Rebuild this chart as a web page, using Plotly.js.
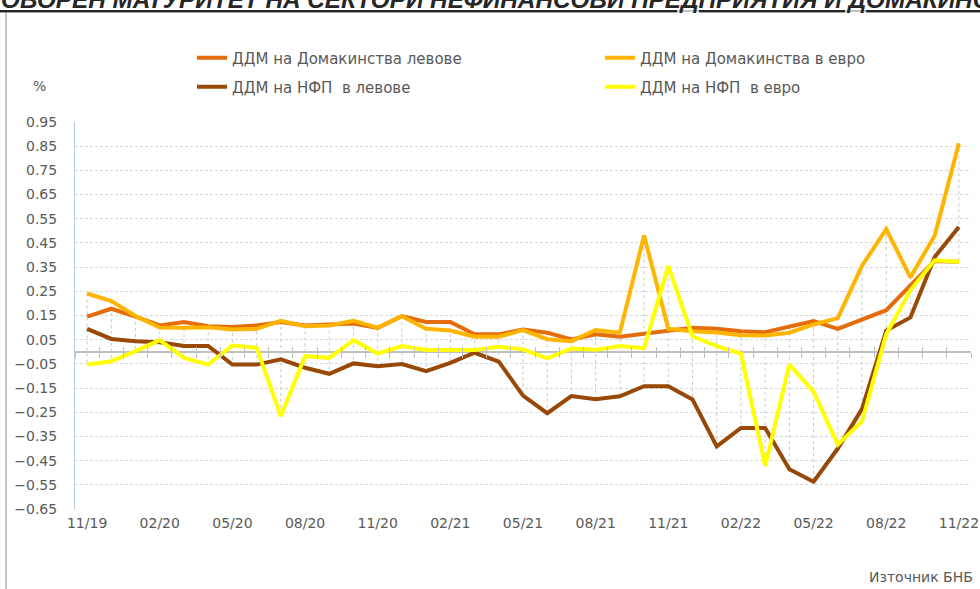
<!DOCTYPE html>
<html>
<head>
<meta charset="utf-8">
<script src="https://cdn.plot.ly/plotly-3.0.1.min.js"></script>
<style>html,body{margin:0;padding:0;background:#fff;}#chart{width:980px;height:589px;}</style>
</head>
<body>
<div id="chart"></div>
<script>
// ---- data ----
const months = ["11/19","12/19","01/20","02/20","03/20","04/20","05/20","06/20","07/20","08/20","09/20","10/20",
  "11/20","12/20","01/21","02/21","03/21","04/21","05/21","06/21","07/21","08/21","09/21","10/21",
  "11/21","12/21","01/22","02/22","03/22","04/22","05/22","06/22","07/22","08/22","09/22","10/22","11/22"];
const tickLabels = ["11/19","02/20","05/20","08/20","11/20","02/21","05/21","08/21","11/21","02/22","05/22","08/22","11/22"];
const seriesNames = ["ДДМ на Домакинства левове","ДДМ на Домакинства в евро","ДДМ на НФП  в левове","ДДМ на НФП  в евро"];
const hhLev = [0.145,0.178,0.145,0.109,0.123,0.106,0.102,0.109,0.123,0.109,0.113,0.117,0.099,0.147,0.123,0.123,0.072,0.072,0.092,0.079,0.051,0.072,0.062,0.075,0.085,0.099,0.095,0.085,0.081,0.103,0.127,0.095,0.134,0.172,0.275,0.375,0.372];
const hhEur = [0.241,0.21,0.148,0.10,0.099,0.101,0.092,0.095,0.128,0.106,0.109,0.128,0.10,0.147,0.095,0.088,0.062,0.062,0.09,0.052,0.044,0.09,0.079,0.481,0.095,0.085,0.08,0.068,0.067,0.079,0.113,0.139,0.356,0.507,0.308,0.48,0.862];
const nfpLev = [0.095,0.053,0.044,0.039,0.024,0.024,-0.053,-0.053,-0.031,-0.066,-0.091,-0.048,-0.06,-0.051,-0.08,-0.046,-0.004,-0.041,-0.181,-0.254,-0.183,-0.196,-0.184,-0.142,-0.142,-0.197,-0.391,-0.315,-0.315,-0.486,-0.537,-0.4,-0.236,0.088,0.142,0.392,0.516];
const nfpEur = [-0.053,-0.039,0.003,0.048,-0.025,-0.053,0.026,0.016,-0.266,-0.018,-0.025,0.048,-0.007,0.024,0.007,0.007,0.007,0.021,0.01,-0.027,0.014,0.008,0.024,0.015,0.354,0.064,0.023,-0.007,-0.472,-0.053,-0.165,-0.384,-0.287,0.072,0.255,0.378,0.372];

const FONT = "DejaVu Sans";
const GREY = "#595959";
const colors = ["#E46C0A","#FFB400","#984807","#FFFF00"];
const allSeries = [hhLev, hhEur, nfpLev, nfpEur];
const legendIds = ["legend","legend2","legend3","legend4"];

// high-low lines derived from the series
const hlX = [], hlY = [];
months.forEach((m, i) => {
  const vals = allSeries.map(s => s[i]);
  hlX.push(m, m, null);
  hlY.push(Math.max(...vals), Math.min(...vals), null);
});

const traces = [
  {x: hlX, y: hlY, mode: "lines", line: {color: "#C8C8C8", width: 1, dash: "dot"}, showlegend: false, hoverinfo: "skip"},
  // dummy traces carrying the categories for the zero-line tick axes
  {x: months, y: months.map(() => null), xaxis: "x2", mode: "lines", showlegend: false, hoverinfo: "skip"},
  {x: months, y: months.map(() => null), xaxis: "x3", mode: "lines", showlegend: false, hoverinfo: "skip"}
];
allSeries.forEach((s, k) => {
  traces.push({
    x: months, y: s, name: seriesNames[k], mode: "lines",
    line: {color: colors[k], width: 4},
    legend: legendIds[k]
  });
});

// pixel helpers for the plot frame
const L = 75, R = 9, T = 122, B = 80, W = 980 - L - R, H = 589 - T - B;
const px = v => (v - L) / W;
const py = v => (589 - B - v) / H;

const tickAxisBase = {
  type: "category", overlaying: "x", anchor: "free", position: 0.65 / 1.6,
  range: [-0.5, months.length - 0.5], tickson: "boundaries", tickmode: "linear", dtick: 1,
  ticklen: 5, tickcolor: "#BFBFBF", tickwidth: 1, showticklabels: false,
  showgrid: false, showline: false, zeroline: false
};

const legendBase = {
  orientation: "h",
  xref: "container", yref: "container", xanchor: "left", yanchor: "middle",
  font: {family: FONT, size: 15, color: GREY}, bgcolor: "rgba(0,0,0,0)", itemclick: false
};
const legPos = [[192, 58], [600, 58], [192, 87], [600, 87]];

const layout = {
  width: 980, height: 589,
  margin: {l: L, r: R, t: T, b: B},
  paper_bgcolor: "#ffffff", plot_bgcolor: "#ffffff",
  font: {family: FONT, size: 14, color: GREY},
  showlegend: true,
  xaxis: {
    type: "category", range: [-0.5, months.length - 0.5],
    tickmode: "array", tickvals: tickLabels, ticktext: tickLabels,
    showgrid: false, zeroline: false, showline: false, ticks: "",
    ticklabelstandoff: 4,
    tickfont: {family: FONT, size: 14, color: GREY}
  },
  xaxis2: Object.assign({}, tickAxisBase, {ticks: "outside"}),
  xaxis3: Object.assign({}, tickAxisBase, {ticks: "inside"}),
  yaxis: {
    range: [-0.65, 0.95], tickmode: "linear", tick0: -0.65, dtick: 0.1, tickformat: ".2f",
    showgrid: true, gridcolor: "#D9D9D9", griddash: "3px,2px", gridwidth: 1,
    zeroline: true, zerolinecolor: "#BFBFBF", zerolinewidth: 1.5,
    showline: true, linecolor: "#B4C8E4", linewidth: 1,
    ticks: "", ticklabelstandoff: 14,
    tickfont: {family: FONT, size: 14, color: GREY}
  },
  shapes: [
    {type: "rect", xref: "paper", yref: "paper", x0: px(6), x1: px(1000), y0: py(620), y1: py(11),
     line: {color: "#8C8C8C", width: 1}, fillcolor: "rgba(0,0,0,0)", layer: "below"}
  ],
  annotations: [
    {xref: "paper", yref: "paper", x: px(-54), y: py(-1), xanchor: "left", yanchor: "middle", showarrow: false,
     text: "<b><i><u>ДОГОВОРЕН МАТУРИТЕТ НА СЕКТОРИ НЕФИНАНСОВИ ПРЕДПРИЯТИЯ И ДОМАКИНСТВА</u></i></b>",
     font: {family: "Liberation Sans", size: 24.3, color: "#262626"}},
    {xref: "paper", yref: "paper", x: px(39), y: py(86), xanchor: "center", yanchor: "middle", showarrow: false,
     text: "%", font: {family: FONT, size: 14, color: GREY}},
    {xref: "paper", yref: "paper", x: px(975), y: py(577), xanchor: "right", yanchor: "middle", showarrow: false,
     text: "Източник БНБ", font: {family: FONT, size: 14, color: GREY}}
  ]
};
legendIds.forEach((id, k) => {
  layout[id] = Object.assign({}, legendBase, {x: legPos[k][0] / 980, y: 1 - legPos[k][1] / 589});
});

Plotly.newPlot("chart", traces, layout, {staticPlot: true});
</script>
</body>
</html>
